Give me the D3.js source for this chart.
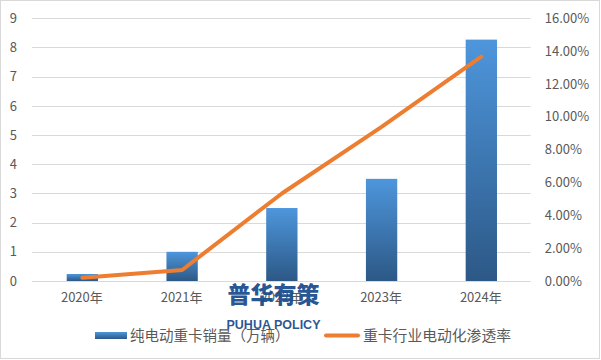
<!DOCTYPE html>
<html><head><meta charset="utf-8">
<script src="https://cdn.jsdelivr.net/npm/d3@7/dist/d3.min.js"></script>
<style>html,body{margin:0;padding:0;background:#fff;}svg{display:block;}</style>
</head><body>
<script>
const categories = ["2020年","2021年","2022年","2023年","2024年"];
const salesValues = [0.24, 1.0, 2.5, 3.5, 8.27];
const penetrationValues = [0.002, 0.0067, 0.0533, 0.0939, 0.1366];
const leftTicks = [0,1,2,3,4,5,6,7,8,9];
const rightTicks = [0,0.02,0.04,0.06,0.08,0.10,0.12,0.14,0.16];
const seriesNames = ["纯电动重卡销量（万辆）","重卡行业电动化渗透率"];

const W = 601, H = 360;
const font = "'Noto Sans CJK SC','Noto Sans',sans-serif";
const svg = d3.select("body").append("svg").attr("width", W).attr("height", H);

const defs = svg.append("defs");
const grad = defs.append("linearGradient").attr("id","barGrad").attr("x1",0).attr("y1",0).attr("x2",0).attr("y2",1);
grad.append("stop").attr("offset","0%").attr("stop-color","#4E96DC");
grad.append("stop").attr("offset","100%").attr("stop-color","#2C5886");

svg.append("rect").attr("x",0.5).attr("y",0.5).attr("width",W-2).attr("height",H-2)
  .attr("fill","#fff").attr("stroke","#d9d9d9");

const x = d3.scaleBand().domain(categories).range([32, 530.7]).padding(0);
const yL = d3.scaleLinear().domain([0,9]).range([281, 18.3]);
const yR = d3.scaleLinear().domain([0,0.16]).range([281, 18.3]);

// gridlines
svg.append("g").selectAll("line").data(leftTicks).join("line")
  .attr("x1",32).attr("x2",530.7)
  .attr("y1",d=>Math.round(yL(d))+0.5).attr("y2",d=>Math.round(yL(d))+0.5)
  .attr("stroke","#d9d9d9").attr("stroke-width",1);

// left axis
const axL = svg.append("g").attr("transform","translate(32,0)")
  .call(d3.axisLeft(yL).tickValues(leftTicks).tickSize(0).tickPadding(15).tickFormat(d3.format("d")));
axL.select(".domain").remove();
axL.selectAll("text").attr("font-family",font).attr("font-size",13).attr("fill","#595959");

// right axis
const axR = svg.append("g").attr("transform","translate(530.7,0)")
  .call(d3.axisRight(yR).tickValues(rightTicks).tickSize(0).tickPadding(14).tickFormat(d3.format(".2%")));
axR.select(".domain").remove();
axR.selectAll("text").attr("font-family",font).attr("font-size",13).attr("fill","#595959");

// x axis
const axX = svg.append("g").attr("transform","translate(0,281)")
  .call(d3.axisBottom(x).tickSize(0).tickPadding(12));
axX.select(".domain").remove();
axX.selectAll("text").attr("font-family",font).attr("font-size",13).attr("fill","#595959");

// bars
const bw = x.bandwidth()*0.314;
svg.append("g").selectAll("rect").data(categories).join("rect")
  .attr("x",(d)=>x(d)+x.bandwidth()/2-bw/2+0.5)
  .attr("y",(d,i)=>yL(salesValues[i]))
  .attr("width",bw)
  .attr("height",(d,i)=>yL(0)-yL(salesValues[i]))
  .attr("fill","url(#barGrad)");

// line
const line = d3.line().x((d,i)=>x(categories[i])+x.bandwidth()/2+0.5).y(d=>yR(d));
svg.append("path").datum(penetrationValues).attr("d",line)
  .attr("fill","none").attr("stroke","#ED7D31").attr("stroke-width",4)
  .attr("stroke-linecap","round").attr("stroke-linejoin","round");

// watermark
svg.append("text").attr("x",273.5).attr("y",303).attr("text-anchor","middle")
  .attr("font-family",font).attr("font-weight",900).attr("font-size",23).attr("fill","#1A4C8C")
  .attr("fill-opacity",0.95).text("普华有策");
svg.append("text").attr("x",273.5).attr("y",329).attr("text-anchor","middle")
  .attr("font-family","'Liberation Sans',Arial,sans-serif").attr("font-weight",700).attr("font-size",12.5).attr("fill","#1A4C8C")
  .attr("fill-opacity",0.95).text("PUHUA POLICY");

// legend
const lg = svg.append("g");
lg.append("rect").attr("x",95).attr("y",332).attr("width",32).attr("height",7).attr("fill","url(#barGrad)");
lg.append("text").attr("x",130).attr("y",341).attr("font-family",font).attr("font-size",14.5).attr("fill","#595959").text(seriesNames[0]);
lg.append("line").attr("x1",326).attr("x2",358).attr("y1",335.5).attr("y2",335.5)
  .attr("stroke","#ED7D31").attr("stroke-width",4).attr("stroke-linecap","round");
lg.append("text").attr("x",363).attr("y",341).attr("font-family",font).attr("font-size",14.8).attr("fill","#595959").text(seriesNames[1]);
</script>
</body></html>
